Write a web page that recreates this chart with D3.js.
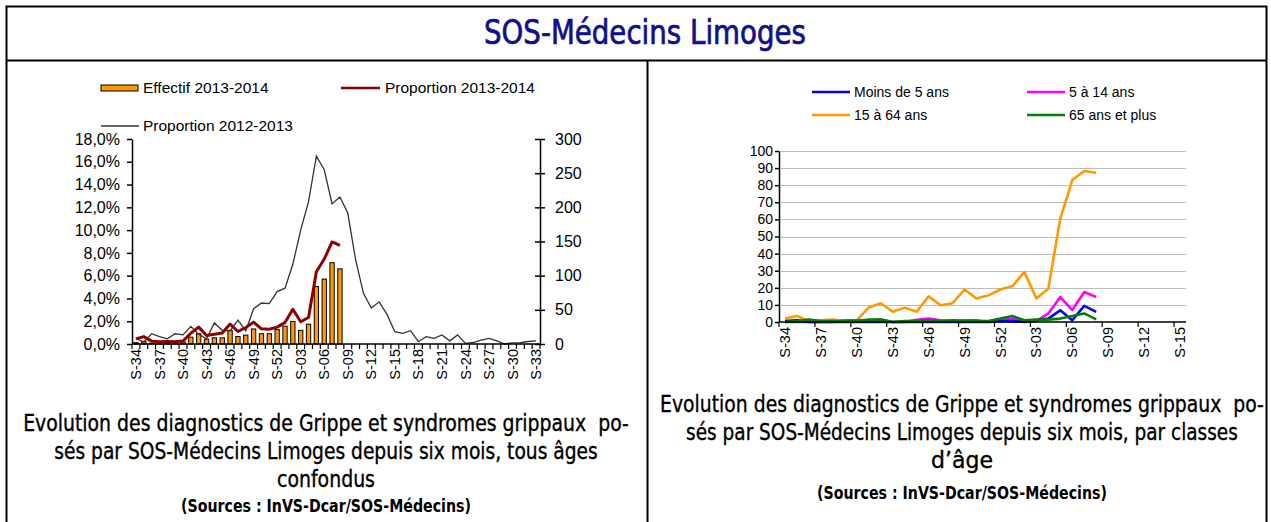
<!DOCTYPE html>
<html>
<head>
<meta charset="utf-8">
<script src="https://cdn.jsdelivr.net/npm/d3@7"></script>
<style>
  body { margin: 0; background: #fff; }
  svg { display: block; }
  .chart text { font-family: "Liberation Sans", Arial, sans-serif; fill: #000; }
  .cap { font-family: "Liberation Sans Narrow", "DejaVu Sans Condensed", "DejaVu Sans", sans-serif; fill: #000; }
</style>
</head>
<body>
<div id="chart"></div>
<script>
// week labels, season S-34 -> S-33
var weeks = ["S-34","S-35","S-36","S-37","S-38","S-39","S-40","S-41","S-42","S-43","S-44","S-45","S-46",
  "S-47","S-48","S-49","S-50","S-51","S-52","S-01","S-02","S-03","S-04","S-05","S-06","S-07","S-08",
  "S-09","S-10","S-11","S-12","S-13","S-14","S-15","S-16","S-17","S-18","S-19","S-20","S-21","S-22",
  "S-23","S-24","S-25","S-26","S-27","S-28","S-29","S-30","S-31","S-32","S-33"];

// left chart: counts (right axis) and proportions in % (left axis)
var effectif1314 = [2,4,1,1,2,1,3,10,15,7,9,9,20,11,13,22,15,15,21,26,33,20,29,84,95,119,110];
var prop1314 = [0.45,0.65,0.25,0.2,0.22,0.2,0.26,0.94,1.48,0.75,0.85,0.97,1.75,1.1,1.45,1.92,1.33,1.3,
  1.48,1.88,3.05,1.95,2.33,6.35,7.46,8.96,8.66];
var prop1213 = [0.5,0.15,0.9,0.65,0.45,0.9,0.8,1.55,0.85,0.45,1.85,1.2,1.15,2.1,1.15,3.1,3.6,3.55,4.6,4.9,
  7.0,10.0,12.5,16.5,15.3,12.3,12.9,11.5,7.4,4.45,3.15,3.7,2.6,1.08,0.94,1.17,0.2,0.64,0.5,0.8,0.28,0.8,
  0.05,0.13,0.35,0.5,0.28,0.0,0.1,0.11,0.22,0.28];

// right chart: by age group
var ageWeeks = weeks.slice(0, 34);
var moins5 = [0.5,1,0,0,0,0,0,0,0,0,0,0,0,0,0,0,0,0,0.5,0.5,0,1,2,6.8,1,9.4,5.9];
var de5a14 = [0,0,0,0,0,1,1,0.5,1.5,0,0,1.3,2,1,0.5,1,1,0,1,2,0,0.5,5,14.6,7,17.5,14.6];
var de15a64 = [2,3.5,0.5,1,1.5,0.5,1,8.5,11,6,8.4,6,15,9.8,11,19,13.7,15.6,19,21,29.3,13.7,19.5,60.5,83,88.3,87.3];
var plus65 = [0,0.5,1.4,0.5,0.5,0.5,0.5,1.4,1.4,0,0.5,0.5,1,0.5,1,0.5,0.5,0.5,2,3.5,1,1.5,1.4,2,3.5,5,1.5];

var propTicks = [0,2,4,6,8,10,12,14,16,18];
var effTicks = [0,50,100,150,200,250,300];
var ageTicks = [0,10,20,30,40,50,60,70,80,90,100];

var W = 1271, H = 522;
var svg = d3.select("#chart").append("svg").attr("width", W).attr("height", H);

// frame
svg.append("rect").attr("x", 6.5).attr("y", 6.5).attr("width", 1260).attr("height", 520)
  .attr("fill", "none").attr("stroke", "#000").attr("stroke-width", 2);
svg.append("line").attr("x1", 6).attr("x2", 1267).attr("y1", 60.5).attr("y2", 60.5)
  .attr("stroke", "#000").attr("stroke-width", 2);
svg.append("line").attr("x1", 647.5).attr("x2", 647.5).attr("y1", 60).attr("y2", 522)
  .attr("stroke", "#000").attr("stroke-width", 2);

// title, squeezed to look like the condensed original
squeeze(svg.append("text").attr("class", "cap").style("fill", "#10108a")
  .style("stroke", "#10108a").style("stroke-width", "0.7px")
  .style("font-size", "34px").text("SOS-Médecins Limoges"), 645, 44, 322);

// ---------- left chart ----------
var L = { left: 132, right: 540, top: 139, bottom: 344 };
var gL = svg.append("g").attr("class", "chart");

var xL = d3.scaleBand().domain(weeks).range([L.left, L.right]);
var yProp = d3.scaleLinear().domain([0, 18]).range([L.bottom, L.top]);
var yEff = d3.scaleLinear().domain([0, 300]).range([L.bottom, L.top]);

var bw = xL.bandwidth() * 0.55;
gL.selectAll(".bar").data(effectif1314).enter().append("rect")
  .attr("x", (d, i) => xL(weeks[i]) + (xL.bandwidth() - bw) / 2)
  .attr("y", d => yEff(d))
  .attr("width", bw)
  .attr("height", d => L.bottom - yEff(d))
  .attr("fill", "#ff9900").attr("stroke", "#000").attr("stroke-width", 1);

var lineL = d3.line().x((d, i) => xL(weeks[i]) + xL.bandwidth() / 2).y(d => yProp(d));
gL.append("path").datum(prop1213).attr("d", lineL)
  .attr("fill", "none").attr("stroke", "#333").attr("stroke-width", 1.3);
gL.append("path").datum(prop1314).attr("d", lineL)
  .attr("fill", "none").attr("stroke", "#8b0000").attr("stroke-width", 3).attr("stroke-linejoin", "round");

var axL = gL.append("g").attr("transform", `translate(${L.left},0)`)
  .call(d3.axisLeft(yProp).tickValues(propTicks).tickSize(5).tickSizeOuter(0)
    .tickFormat(d => d3.format(".1f")(d).replace(".", ",") + "%"));
var axR = gL.append("g").attr("transform", `translate(${L.right},0)`)
  .call(d3.axisRight(yEff).tickValues(effTicks).tickSize(5).tickSizeOuter(0));
axR.selectAll(".tick line").attr("x1", -5);
axR.selectAll(".tick text").attr("x", 15);
[axL, axR].forEach(a => {
  a.select(".domain").attr("stroke", "#000").attr("stroke-width", 1.5);
  a.selectAll(".tick line").attr("stroke", "#000").attr("stroke-width", 1.5);
  a.selectAll(".tick text").style("font-size", "16px");
});
axL.selectAll(".tick text").attr("x", -12);

drawXAxis(gL, xL, weeks, L.bottom, 1, 14.5);

// legend left
gL.append("rect").attr("x", 101).attr("y", 85).attr("width", 37).attr("height", 6)
  .attr("fill", "#ff9900").attr("stroke", "#000").attr("stroke-width", 1);
gL.append("text").attr("x", 143).attr("y", 93).style("font-size", "15.5px").text("Effectif 2013-2014");
gL.append("line").attr("x1", 341).attr("x2", 380).attr("y1", 88).attr("y2", 88)
  .attr("stroke", "#8b0000").attr("stroke-width", 2.5);
gL.append("text").attr("x", 385).attr("y", 93).style("font-size", "15.5px").text("Proportion 2013-2014");
gL.append("line").attr("x1", 101).attr("x2", 139).attr("y1", 126).attr("y2", 126)
  .attr("stroke", "#333").attr("stroke-width", 1.3);
gL.append("text").attr("x", 143).attr("y", 131).style("font-size", "15.5px").text("Proportion 2012-2013");

// ---------- right chart ----------
var R = { left: 779, right: 1186, top: 151, bottom: 322 };
var gR = svg.append("g").attr("class", "chart");
var xR = d3.scaleBand().domain(ageWeeks).range([R.left, R.right]);
var yR = d3.scaleLinear().domain([0, 100]).range([R.bottom, R.top]);

gR.selectAll(".grid").data(ageTicks.slice(1)).enter().append("line")
  .attr("x1", R.left).attr("x2", R.right)
  .attr("y1", d => Math.round(yR(d)) + 0.5).attr("y2", d => Math.round(yR(d)) + 0.5)
  .attr("stroke", "#bdbdbd").attr("stroke-width", 1);

var axR2 = gR.append("g").attr("transform", `translate(${R.left},0)`)
  .call(d3.axisLeft(yR).tickValues(ageTicks).tickSize(4).tickSizeOuter(0));
axR2.select(".domain").attr("stroke", "#000").attr("stroke-width", 1.5);
axR2.selectAll(".tick line").attr("stroke", "#000").attr("stroke-width", 1.5);
axR2.selectAll(".tick text").style("font-size", "14px").attr("x", -6);

var series = [
  { name: "Moins de 5 ans", values: moins5, color: "#0000ff" },
  { name: "5 à 14 ans", values: de5a14, color: "#ff00ff" },
  { name: "15 à 64 ans", values: de15a64, color: "#ff9900" },
  { name: "65 ans et plus", values: plus65, color: "#008000" }
];
var lineR = d3.line().x((d, i) => xR(ageWeeks[i]) + xR.bandwidth() / 2).y(d => yR(d));
[2, 1, 0, 3].forEach(k => {
  gR.append("path").datum(series[k].values).attr("d", lineR)
    .attr("fill", "none").attr("stroke", series[k].color).attr("stroke-width", 2.6)
    .attr("stroke-linejoin", "round");
});

drawXAxis(gR, xR, ageWeeks, R.bottom, 3, 14.5);

var legPos = [[812, 92], [1027, 92], [812, 115], [1027, 115]];
series.forEach((s, k) => {
  var p = legPos[k];
  gR.append("line").attr("x1", p[0]).attr("x2", p[0] + 38).attr("y1", p[1]).attr("y2", p[1])
    .attr("stroke", s.color).attr("stroke-width", 2.6);
  gR.append("text").attr("x", p[0] + 42).attr("y", p[1] + 5).style("font-size", "14px").text(s.name);
});

// ---------- captions ----------
caption(326, [
  ["Evolution des diagnostics de Grippe et syndromes grippaux  po-", 606],
  ["sés par SOS-Médecins Limoges depuis six mois, tous âges", 544],
  ["confondus", 98]], 431, 28, 512);
caption(962, [
  ["Evolution des diagnostics de Grippe et syndromes grippaux  po-", 604],
  ["sés par SOS-Médecins Limoges depuis six mois, par classes", 552],
  ["d\u2019âge", 62]], 412, 28, 499);

function caption(cx, lines, y0, step, ySrc) {
  lines.forEach((l, i) => {
    squeeze(svg.append("text").attr("class", "cap").style("font-size", "23px")
      .style("stroke", "#000").style("stroke-width", "0.35px").text(l[0]),
      cx, y0 + i * step, l[1]);
  });
  squeeze(svg.append("text").attr("class", "cap").style("font-size", "18px").style("font-weight", "bold")
    .text("(Sources : InVS-Dcar/SOS-Médecins)"), cx, ySrc, 290);
}

// centre a text on (cx, y) and compress it horizontally to width w
function squeeze(sel, cx, y, w) {
  sel.attr("text-anchor", "middle").style("white-space", "pre");
  var len = sel.node().getComputedTextLength();
  sel.attr("transform", `translate(${cx},${y}) scale(${w / len},1)`);
}

function drawXAxis(g, x, cats, yb, tickEvery, fs) {
  g.append("line").attr("x1", x.range()[0]).attr("x2", x.range()[1])
    .attr("y1", yb).attr("y2", yb).attr("stroke", "#000").attr("stroke-width", 1.5);
  for (var i = 0; i <= cats.length; i += tickEvery) {
    var xx = x.range()[0] + i * x.step();
    g.append("line").attr("x1", xx).attr("x2", xx).attr("y1", yb).attr("y2", yb + 5)
      .attr("stroke", "#000").attr("stroke-width", 1.2);
  }
  cats.forEach((c, i) => {
    if (i % 3 !== 0) return;
    var cx = x(c) + x.bandwidth() / 2;
    g.append("text").attr("transform", `translate(${cx},${yb + 5}) rotate(-90)`)
      .attr("text-anchor", "end").attr("dy", "0.35em").style("font-size", fs + "px").text(c);
  });
}
</script>
</body>
</html>
